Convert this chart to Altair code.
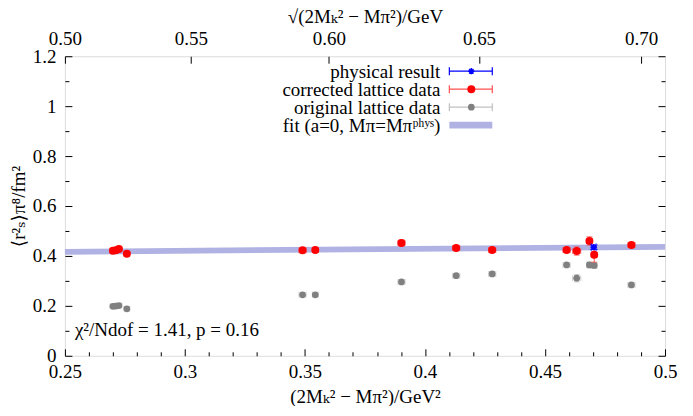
import altair as alt
import pandas as pd
import numpy as np

# ---------------- data ----------------
fit_x = [0.25, 0.50]
fit_lo = [0.405, 0.425]
fit_hi = [0.428, 0.448]

lat_x = [0.2700, 0.2712, 0.2725, 0.2758, 0.3490, 0.3543, 0.3902, 0.4130,
         0.4280, 0.4590, 0.4632, 0.4685, 0.4705, 0.4860]
lat_xerr = [0.0012, 0.0012, 0.0012, 0.0012, 0.0015, 0.0012, 0.0015, 0.0015,
            0.0015, 0.0015, 0.0017, 0.0012, 0.0012, 0.0015]
corr_y = [0.421, 0.423, 0.428, 0.409, 0.423, 0.424, 0.452, 0.432,
          0.424, 0.424, 0.420, 0.460, 0.405, 0.444]
corr_yerr = [0.008, 0.008, 0.010, 0.008, 0.010, 0.008, 0.012, 0.010,
             0.010, 0.010, 0.017, 0.017, 0.030, 0.010]
orig_y = [0.198, 0.199, 0.201, 0.188, 0.244, 0.244, 0.296, 0.321,
          0.328, 0.364, 0.311, 0.364, 0.362, 0.284]
orig_yerr = [0.006, 0.006, 0.006, 0.006, 0.008, 0.006, 0.008, 0.008,
             0.008, 0.008, 0.015, 0.012, 0.012, 0.008]

phys_x = [0.4703]
phys_y = [0.435]
phys_xerr = [0.0010]
phys_yerr = [0.009]

bottom_major = [0.25, 0.3, 0.35, 0.4, 0.45, 0.5]
bottom_minor = [0.26, 0.27, 0.28, 0.29, 0.31, 0.32, 0.33, 0.34, 0.36, 0.37, 0.38, 0.39,
                0.41, 0.42, 0.43, 0.44, 0.46, 0.47, 0.48, 0.49]
top_major = [0.50, 0.55, 0.60, 0.65, 0.70]
y_major = [0, 0.2, 0.4, 0.6, 0.8, 1.0, 1.2]
y_minor = [0.1, 0.3, 0.5, 0.7, 0.9, 1.1]

legend_labels = ["physical result", "corrected lattice data", "original lattice data",
                 "fit (a=0, Mπ=Mπᵖʰʸˢ)"]
annotation = "χ²/Ndof = 1.41, p = 0.16"

FONT = "'Liberation Serif', 'DejaVu Serif', serif"
FS = 19
RED = "#ff0000"
RED_BAR = "#ff5050"
GREY = "#808080"
GREY_BAR = "#c0c0c0"
BLUE = "#0000ff"
BAND = "#b0b2e3"

XS = alt.Scale(domain=[0.25, 0.5], nice=False, zero=False)
YS = alt.Scale(domain=[0, 1.2], nice=False, zero=False)
XT = alt.Scale(type="pow", exponent=2, domain=[0.5, 0.5 ** 0.5], nice=False, zero=False)


def X(f, axis=None, scale=XS):
    return alt.X(f, type="quantitative", scale=scale, axis=axis)


def Y(f, axis=None):
    return alt.Y(f, type="quantitative", scale=YS, axis=axis)


fit_df = pd.DataFrame({"fx": fit_x, "flo": fit_lo, "fhi": fit_hi})


def make_df(x, xe, y, ye):
    d = pd.DataFrame({"x": x, "y": y})
    d["xlo"] = np.array(x) - np.array(xe)
    d["xhi"] = np.array(x) + np.array(xe)
    d["ylo"] = np.array(y) - np.array(ye)
    d["yhi"] = np.array(y) + np.array(ye)
    return d


corr_df = make_df(lat_x, lat_xerr, corr_y, corr_yerr)
orig_df = make_df(lat_x, lat_xerr, orig_y, orig_yerr)
phys_df = make_df(phys_x, phys_xerr, phys_y, phys_yerr)


def errorbars(d, color, cap=6):
    b = alt.Chart(d)
    return [
        b.mark_rule(color=color, strokeWidth=1).encode(x=X("xlo"), x2="xhi", y=Y("y")),
        b.mark_rule(color=color, strokeWidth=1).encode(x=X("x"), y=Y("ylo"), y2="yhi"),
        b.mark_tick(color=color, orient="vertical", size=cap, thickness=1).encode(x=X("xlo"), y=Y("y")),
        b.mark_tick(color=color, orient="vertical", size=cap, thickness=1).encode(x=X("xhi"), y=Y("y")),
        b.mark_tick(color=color, orient="horizontal", size=cap, thickness=1).encode(x=X("x"), y=Y("ylo")),
        b.mark_tick(color=color, orient="horizontal", size=cap, thickness=1).encode(x=X("x"), y=Y("yhi")),
    ]


layers = []
# fit band
layers.append(alt.Chart(fit_df).mark_area(color=BAND, opacity=1).encode(
    x=X("fx"), y=Y("flo"), y2="fhi"))
# original data
layers += errorbars(orig_df, GREY_BAR)
layers.append(alt.Chart(orig_df).mark_circle(color=GREY, size=45, opacity=1).encode(x=X("x"), y=Y("y")))
# corrected data
layers += errorbars(corr_df, RED_BAR)
layers.append(alt.Chart(corr_df).mark_circle(color=RED, size=64, opacity=1).encode(x=X("x"), y=Y("y")))
# physical result
STAR = "M-1,0L1,0M0,-1L0,1M-0.7,-0.7L0.7,0.7M-0.7,0.7L0.7,-0.7"
layers += errorbars(phys_df, BLUE, cap=8)
layers.append(alt.Chart(phys_df).mark_point(shape=STAR, color=BLUE, filled=False, size=40,
                                             strokeWidth=1.5, opacity=1).encode(x=X("x"), y=Y("y")))

# ---------------- legend ----------------
one = pd.DataFrame({"a": [0]})
TX, L0, L1, LM = 376, 385, 428, 407
rows = [15, 33, 51, 69]
for lab, ry in zip(legend_labels, rows):
    layers.append(alt.Chart(one).mark_text(text=lab, font=FONT, fontSize=FS, align="right",
                                           baseline="middle", color="black").encode(
        x=alt.value(TX), y=alt.value(ry + 1)))
for ry, c, mk in [(rows[0], BLUE, "star"), (rows[1], RED_BAR, "red"), (rows[2], GREY_BAR, "grey")]:
    layers.append(alt.Chart(one).mark_rule(color=c, strokeWidth=1.2).encode(
        x=alt.value(L0), x2=alt.value(L1), y=alt.value(ry)))
    for xx in (L0, L1):
        layers.append(alt.Chart(one).mark_rule(color=c, strokeWidth=1.2).encode(
            x=alt.value(xx), y=alt.value(ry - 4), y2=alt.value(ry + 4)))
    if mk == "star":
        layers.append(alt.Chart(one).mark_point(shape=STAR, color=BLUE, filled=False, size=40,
                                                strokeWidth=1.5, opacity=1).encode(
            x=alt.value(LM), y=alt.value(ry)))
    elif mk == "red":
        layers.append(alt.Chart(one).mark_circle(color=RED, size=64, opacity=1).encode(
            x=alt.value(LM), y=alt.value(ry)))
    else:
        layers.append(alt.Chart(one).mark_circle(color=GREY, size=45, opacity=1).encode(
            x=alt.value(LM), y=alt.value(ry)))
layers.append(alt.Chart(one).mark_rect(color=BAND).encode(
    x=alt.value(L0), x2=alt.value(L1), y=alt.value(rows[3] - 3.5), y2=alt.value(rows[3] + 3.5)))

layers.append(alt.Chart(one).mark_text(text=annotation, font=FONT, fontSize=FS, align="left",
                                       baseline="middle", color="black").encode(
    x=alt.value(10), y=alt.value(274)))

# ---------------- axes ----------------
AX = dict(grid=False, domain=False, labelFont=FONT, labelFontSize=FS, titleFont=FONT,
          titleFontSize=FS, titleFontWeight="normal", labelColor="black", titleColor="black",
          tickColor="black", tickWidth=1, labelFlush=False, labelOverlap=False)


def ax(**kw):
    d = dict(AX)
    d.update(kw)
    return alt.Axis(**d)


def xlayer(axis, top=False):
    c = alt.Chart(fit_df).mark_point(opacity=0)
    if top:
        c = c.transform_calculate(s="sqrt(datum.fx)")
        return c.encode(x=X("s", axis=axis, scale=XT), y=Y("flo"))
    return c.encode(x=X("fx", axis=axis), y=Y("flo"))


def ylayer(axis):
    return alt.Chart(fit_df).mark_point(opacity=0).encode(x=X("fx"), y=Y("flo", axis=axis))


layers.append(xlayer(ax(orient="bottom", values=bottom_major, format="~g", ticks=False, tickSize=0,
                        labelPadding=7, title="(2Mₖ² − Mπ²)/GeV²", titlePadding=6)))
layers.append(xlayer(ax(orient="bottom", values=bottom_major, labels=False, tickSize=7, offset=-7, title=None)))
layers.append(xlayer(ax(orient="bottom", values=bottom_minor, labels=False, tickSize=4, offset=-4, title=None)))
layers.append(xlayer(ax(orient="top", values=top_major, format=".2f", ticks=False, tickSize=0,
                        labelPadding=8, title="√(2Mₖ² − Mπ²)/GeV", titlePadding=3), top=True))
layers.append(xlayer(ax(orient="top", values=top_major, labels=False, tickSize=7, offset=-7, title=None), top=True))
layers.append(ylayer(ax(orient="left", values=y_major, format="~g", ticks=False, tickSize=0,
                        labelPadding=9, title="⟨r²ₛ⟩π⁸/fm²", titlePadding=4)))
layers.append(ylayer(ax(orient="left", values=y_major, labels=False, tickSize=7, offset=-7, title=None)))
layers.append(ylayer(ax(orient="left", values=y_minor, labels=False, tickSize=4, offset=-4, title=None)))
layers.append(ylayer(ax(orient="right", values=y_major, labels=False, tickSize=7, offset=-7, title=None)))
layers.append(ylayer(ax(orient="right", values=y_minor, labels=False, tickSize=4, offset=-4, title=None)))

chart = alt.layer(*layers).resolve_scale(x="independent", y="independent").resolve_axis(
    x="independent", y="independent").properties(
    width=601, height=300,
    padding={"left": 57, "top": 48, "right": 20, "bottom": 50},
    autosize=alt.AutoSizeParams(type="none"),
).configure_view(stroke="black", strokeWidth=1).configure(background="white")

chart.save("out.html", embed_options={"renderer": "svg", "actions": False})
